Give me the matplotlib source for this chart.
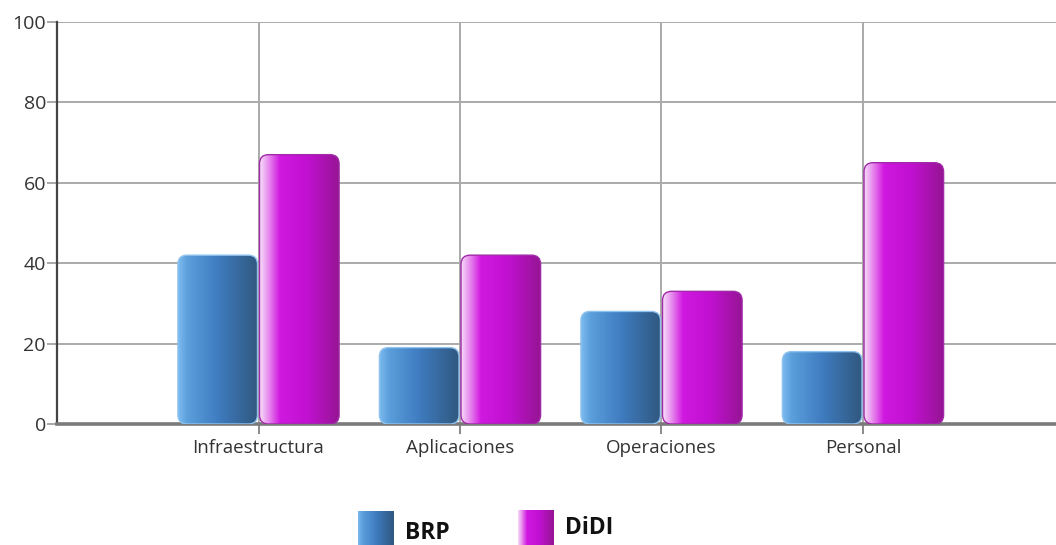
import numpy as np
import matplotlib.pyplot as plt
from matplotlib.patches import FancyBboxPatch
from matplotlib.colors import LinearSegmentedColormap

# data
categories = ["Infraestructura", "Aplicaciones", "Operaciones", "Personal"]
brp = [42, 19, 28, 18]
didi = [67, 42, 33, 65]
series_names = ["BRP", "DiDI"]

plt.rcParams["font.family"] = ["Open Sans", "DejaVu Sans"]

blue_cmap = LinearSegmentedColormap.from_list(
    "blue", [(0.0, "#7cbcef"), (0.12, "#5b9fdc"), (0.5, "#3f7cc0"), (1.0, "#30587f")]
)
magenta_cmap = LinearSegmentedColormap.from_list(
    "mag", [(0.0, "#f6dcf8"), (0.08, "#eba0f0"), (0.25, "#d018e0"), (0.6, "#c010d0"), (1.0, "#951592")]
)

fig = plt.figure(figsize=(10.56, 5.45), dpi=100)
ax = fig.add_axes([57 / 1056, 1 - 424 / 545, 1 - 57 / 1056, (424 - 22) / 545])

x = np.arange(1, len(categories) + 1)
xmax = (1056 - 57) / 201.5
grad = np.linspace(0, 1, 256).reshape(1, -1)
aspect = 201.5 / 4.02  # x-unit px / y-unit px


def gradient_bar(x0, w, h, cmap, edge):
    patch = FancyBboxPatch(
        (x0, 0), w, h,
        boxstyle="round,pad=0,rounding_size=0.045",
        mutation_aspect=aspect,
        facecolor="none", edgecolor=edge, linewidth=1.0, zorder=4,
    )
    ax.add_patch(patch)
    im = ax.imshow(grad, extent=[x0, x0 + w, 0, h], aspect="auto",
                   cmap=cmap, origin="lower", zorder=3, interpolation="bilinear")
    im.set_clip_path(patch)


w = 0.395
for xi, b, d in zip(x, brp, didi):
    gradient_bar(xi - 0.4, w, b, blue_cmap, "#8fc3ee")
    gradient_bar(xi + 0.005, w, d, magenta_cmap, "#a02aa8")

ax.set_xlim(0, xmax)
ax.set_ylim(0, 100)
ax.set_yticks([0, 20, 40, 60, 80, 100])
ax.set_xticks(x)
ax.set_xticklabels(categories, fontsize=13.5, color="#333333")
ax.tick_params(axis="y", labelsize=14, labelcolor="#333333", color="#999999",
               length=7, width=1.2, pad=1)
ax.tick_params(axis="x", color="#777777", length=7, width=1.2, pad=4)

ax.grid(True, color="#aaaaaa", linewidth=1.4, zorder=0)
ax.set_axisbelow(True)
for s in ["top", "right"]:
    ax.spines[s].set_visible(False)
ax.spines["left"].set_color("#444444")
ax.spines["left"].set_linewidth(1.6)
ax.spines["bottom"].set_color("#7a7a7a")
ax.spines["bottom"].set_linewidth(2.6)

# legend drawn by hand at the bottom
for left, top, ty, name, cmap in [(358, 511, 533, series_names[0], blue_cmap),
                                  (518, 510, 528, series_names[1], magenta_cmap)]:
    lax = fig.add_axes([left / 1056, 0, 36 / 1056, (545 - top) / 545])
    lax.imshow(grad, aspect="auto", cmap=cmap, extent=[0, 1, 0, 1])
    lax.set_axis_off()
    fig.text((left + 47) / 1056, 1 - ty / 545, name, fontsize=16.5,
             fontweight="bold", color="#111111", va="center", ha="left")

fig.savefig("out.png", dpi=100)
